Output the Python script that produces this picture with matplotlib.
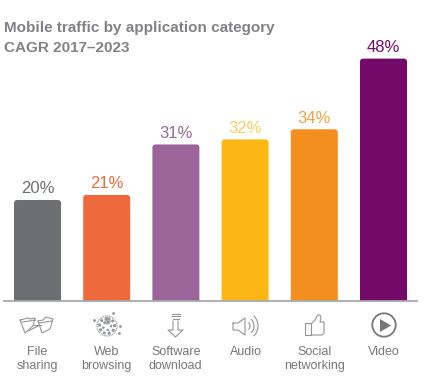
import numpy as np
import matplotlib
matplotlib.use('Agg')
import matplotlib.pyplot as plt
from matplotlib.patches import FancyBboxPatch, Circle, Polygon

plt.rcParams['font.family'] = ['Liberation Sans', 'DejaVu Sans']

categories = ['File\nsharing', 'Web\nbrowsing', 'Software\ndownload', 'Audio', 'Social\nnetworking', 'Video']
values = [20, 21, 31, 32, 34, 48]
labels = ['20%', '21%', '31%', '32%', '34%', '48%']
colors = ['#6d6e71', '#ee6a3c', '#9b6599', '#fbb814', '#f38f1f', '#730a6a']
label_colors = ['#6d6e71', '#ee6a3c', '#8f6a90', '#f8cf5c', '#f2a33f', '#730a6a']

W, H = 424, 381
fig = plt.figure(figsize=(W/100, H/100), dpi=100)

# overlay in pixel coords for title and icons
bg = fig.add_axes([0, 0, 1, 1])
bg.set_xlim(0, W)
bg.set_ylim(H, 0)
bg.axis('off')

# axes: baseline at y=301, 5.05 px per percent
x0, x1 = 4, 417
base = 301
top = 10
px_x = 69.2
px_y = 5.05
ax = fig.add_axes([x0/W, 1 - base/H, (x1-x0)/W, (base-top)/H])
ax.patch.set_alpha(0)
ax.set_ylim(0, (base-top)/px_y)
ax.set_xlim((x0-37.5)/px_x, (x1-37.5)/px_x)
for s in ['top', 'left', 'right']:
    ax.spines[s].set_visible(False)
ax.spines['bottom'].set_color('#a7a9ac')
ax.spines['bottom'].set_linewidth(1.3)
ax.set_yticks([])
ax.set_xticks([])

bar_w = 47/px_x
r = 3.0
for i, v in enumerate(values):
    # box starts below the axis so the bottom corners get clipped off
    ax.add_patch(FancyBboxPatch((i - bar_w/2, -2), bar_w, v + 2,
                                boxstyle=f'round,pad=0,rounding_size={r/px_x}',
                                mutation_aspect=px_x/px_y,
                                fc=colors[i], ec='none'))
    ax.text(i, v + 1.3, labels[i], ha='center', va='baseline', fontsize=12, color=label_colors[i])

bg.text(4, 32, 'Mobile traffic by application category', fontsize=11, fontweight='bold',
        color='#808285', va='baseline', ha='left')
bg.text(4, 52, 'CAGR 2017–2023', fontsize=11, fontweight='bold',
        color='#808285', va='baseline', ha='left')

centers = [37, 106.7, 175.7, 245.7, 314.7, 383.7]
for c, name in zip(centers, categories):
    for j, ln in enumerate(name.split('\n')):
        bg.text(c, 355 + j*14, ln, fontsize=9, color='#77787b', ha='center', va='baseline')

gray = '#939598'
icon = dict(color=gray, lw=0.8, solid_capstyle='round', solid_joinstyle='round')
# file sharing
bg.plot([20, 24, 28, 30, 35, 33, 25, 20], [320, 319, 318, 319, 318, 326, 333, 320], **icon)
bg.plot([38, 43, 46, 53, 50, 42, 38], [321, 320, 317, 319, 329, 333, 321], **icon)
bg.plot([22, 36], [322, 320], **icon)
bg.plot([39, 52], [323, 321], **icon)
bg.plot([28, 38], [331, 326], **icon)
bg.plot([33, 41], [325, 325], **icon)
# web browsing
bg.add_patch(Circle((107, 326), 10, fc='none', ec=gray, lw=0.8, ls=(0, (1.0, 0.6))))
bg.add_patch(Circle((107, 326), 7.5, fc='none', ec=gray, lw=2.0, ls=(0, (1.0, 0.8))))
bg.add_patch(Circle((107, 326), 4, fc='none', ec=gray, lw=1.6, ls=(0, (1.0, 1.4))))
bg.add_patch(Polygon([[104, 319], [111, 318], [110, 324], [106, 325]], fc=gray, ec='none', alpha=0.7))
bg.plot([94, 113, 119, 120], [320, 313, 333, 326], ls='none', marker='o', ms=1, color=gray)
# download
bg.plot([172, 180], [313.5, 313.5], **icon)
bg.plot([172, 180], [316, 316], **icon)
bg.plot([173, 179], [318.5, 318.5], **icon)
bg.plot([173, 173, 168, 175.5, 183, 178, 178], [321, 330, 330, 337, 330, 330, 321], **icon)
# audio
bg.plot([233, 238, 245, 245, 238, 233, 233], [323, 323, 318, 335, 330, 330, 323], **icon)
t = np.linspace(-0.85, 0.85, 20)
for rad in [4, 8, 12]:
    bg.plot(246 + rad*np.cos(t), 326 + rad*np.sin(t)*1.1, **icon)
# social
bg.plot([305, 305, 311, 311, 305], [323, 335, 335, 323, 323], **icon)
bg.plot([311, 315, 317, 318, 320, 321, 320, 324, 324, 322, 311],
        [324, 320, 316, 315, 315, 318, 322, 322, 333, 335, 335], **icon)
# video
bg.add_patch(Circle((384, 325), 11.7, fc='none', ec='#77787b', lw=1.3))
bg.add_patch(Polygon([[380, 319], [391, 325.5], [380, 332]], fc='#77787b', ec='none'))

fig.savefig('out.png', dpi=100)
